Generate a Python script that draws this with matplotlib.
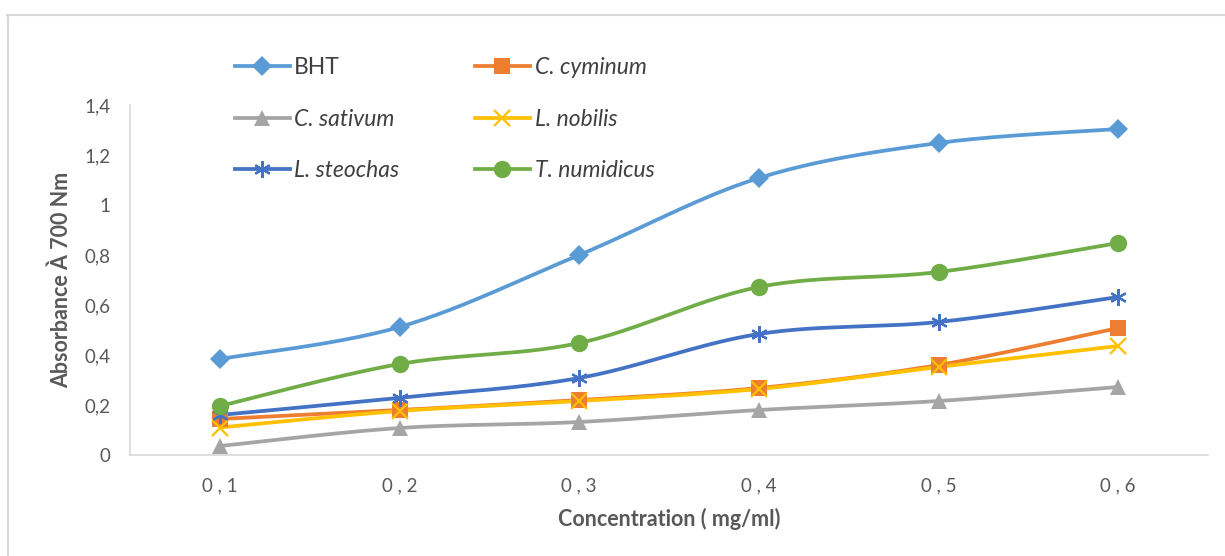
import matplotlib
matplotlib.use("Agg")
import matplotlib.pyplot as plt
from matplotlib.lines import Line2D
import numpy as np

concentrations = ["0 , 1", "0 , 2", "0 , 3", "0 , 4", "0 , 5", "0 , 6"]
bht = [0.384, 0.512, 0.800, 1.108, 1.248, 1.304]
c_cyminum = [0.144, 0.180, 0.220, 0.268, 0.360, 0.508]
c_sativum = [0.036, 0.108, 0.132, 0.180, 0.216, 0.272]
l_nobilis = [0.110, 0.176, 0.216, 0.264, 0.352, 0.436]
l_steochas = [0.160, 0.229, 0.308, 0.484, 0.532, 0.632]
t_numidicus = [0.196, 0.364, 0.448, 0.672, 0.732, 0.848]

series_names = ["BHT", "C. cyminum", "C. sativum", "L. nobilis", "L. steochas", "T. numidicus"]
series_values = [bht, c_cyminum, c_sativum, l_nobilis, l_steochas, t_numidicus]
colors = ["#5B9BD5", "#ED7D31", "#A5A5A5", "#FFC000", "#4472C4", "#70AD47"]
markers = ["D", "s", "^", "x", "*", "o"]
msizes = [10, 11, 12, 11, 12, 12.5]
italic = [False, True, True, True, True, True]

plt.rcParams['font.family'] = ['Lato', 'DejaVu Sans']

fig = plt.figure(figsize=(12.25, 5.56), dpi=100)
ax = fig.add_axes([130/1225, 1-455/556, (1208-130)/1225, 350/556])


def smooth(x, y, n=30):
    x = np.asarray(x, float); y = np.asarray(y, float)
    P = np.column_stack([x, y])
    out = []
    for i in range(len(P) - 1):
        p0 = P[i - 1] if i > 0 else P[i]
        p1 = P[i]; p2 = P[i + 1]
        p3 = P[i + 2] if i + 2 < len(P) else P[i + 1]
        c1 = p1 + (p2 - p0) / 6.0
        c2 = p2 - (p3 - p1) / 6.0
        t = np.linspace(0, 1, n)[:, None]
        seg = (1-t)**3*p1 + 3*(1-t)**2*t*c1 + 3*(1-t)*t**2*c2 + t**3*p2
        out.append(seg if i == 0 else seg[1:])
    s = np.vstack(out)
    return s[:, 0], s[:, 1]

xs = np.arange(len(concentrations))
handles = []
for name, vals, c, m, ms in zip(series_names, series_values, colors, markers, msizes):
    sx, sy = smooth(xs, vals)
    ax.plot(sx, sy, color=c, lw=2.7, solid_capstyle='round', zorder=2)
    if m == "*":
        mk = (6, 2, 0); mew = 1.6
    elif m == "x":
        mk = "x"; mew = 1.6
    else:
        mk = m; mew = 0
    ax.plot(xs, vals, ls='none', marker=mk, ms=ms, color=c, mew=mew, zorder=3)
    handles.append(Line2D([], [], color=c, lw=2.7, marker=mk, ms=ms, mew=mew))

ax.set_xlim(-0.5, len(concentrations) - 0.5)
ax.set_ylim(0, 1.4)
ax.set_xticks(xs)
ax.set_xticklabels(concentrations)
yt = np.arange(0, 1.41, 0.2)
ax.set_yticks(yt)
ax.set_yticklabels(["0" if v == 0 else ("1" if abs(v-1) < 1e-9 else f"{v:.1f}".replace(".", ",")) for v in yt])
ax.tick_params(length=0, labelsize=13.5, colors="#595959", pad=14)
ax.tick_params(axis='x', pad=16)
for s in ["top", "right"]:
    ax.spines[s].set_visible(False)
ax.spines["left"].set_color("#D9D9D9")
ax.spines["bottom"].set_color("#D9D9D9")
ax.spines["left"].set_linewidth(1.2)
ax.spines["bottom"].set_linewidth(1.2)

ax.set_ylabel("Absorbance À 700 Nm", fontsize=15.5, fontweight='bold', color="#595959", labelpad=9)
ax.set_xlabel("Concentration ( mg/ml)", fontsize=15.5, fontweight='bold', color="#595959", labelpad=10)

order = [0, 2, 4, 1, 3, 5]
leg = fig.legend([handles[i] for i in order], [series_names[i] for i in order],
                 ncol=2, loc='upper left', bbox_to_anchor=(214/1225, 1-36/556),
                 frameon=False, fontsize=16.5, handlelength=2.4, handletextpad=0.2,
                 columnspacing=3.3, labelspacing=1.35, borderpad=0.4)
for t, i in zip(leg.get_texts(), order):
    t.set_color("#404040")
    if italic[i]:
        t.set_fontstyle('italic')

# chart border
fig.add_artist(Line2D([7/1225, 1], [1-15/556, 1-15/556], color="#D9D9D9", lw=1.5, transform=fig.transFigure))
fig.add_artist(Line2D([8/1225, 8/1225], [0, 1-15/556], color="#D9D9D9", lw=1.5, transform=fig.transFigure))

fig.savefig("out.png", dpi=100)
